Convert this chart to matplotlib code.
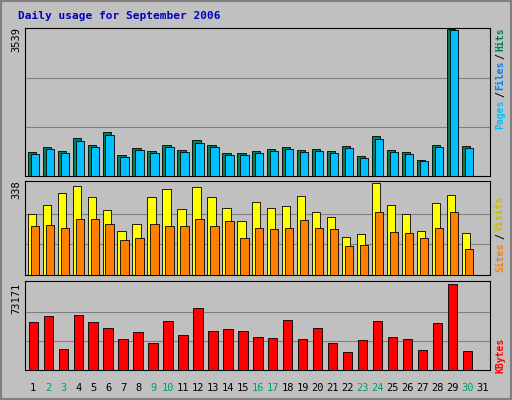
import numpy as np
import matplotlib
matplotlib.use('Agg')
import matplotlib.pyplot as plt

days = list(range(1, 32))
weekend = [2, 3, 9, 10, 16, 17, 23, 24, 30]

hits = [578, 698, 602, 915, 746, 1059, 505, 674, 602, 746, 626, 867, 746, 554, 554,
        602, 650, 698, 626, 650, 602, 722, 481, 963, 626, 578, 385, 746, 3539, 722]
files = [530, 650, 560, 850, 690, 990, 460, 620, 560, 690, 580, 800, 690, 510, 510,
         560, 600, 650, 580, 600, 560, 670, 440, 890, 580, 530, 350, 690, 3500, 670]
visits = [224, 257, 301, 327, 287, 239, 162, 187, 287, 316, 243, 323, 287, 246, 198,
          268, 246, 254, 290, 231, 213, 140, 151, 338, 257, 224, 162, 265, 294, 154]
sites = [180, 184, 173, 206, 206, 187, 129, 136, 187, 180, 180, 206, 180, 198, 136,
         173, 169, 173, 202, 173, 169, 106, 110, 231, 158, 154, 136, 173, 231, 95]
kbytes = [40848, 45954, 17871, 46805, 40848, 35742, 26381, 32338, 22977, 41699, 29785,
          52762, 33189, 34891, 33189, 28083, 27232, 42550, 26381, 35742, 22977, 15318,
          25530, 41699, 28083, 26381, 17020, 39997, 73171, 16169]

W, H = 512, 400
fig = plt.figure(figsize=(W / 100, H / 100), dpi=100, facecolor='#c0c0c0')
mono = 'DejaVu Sans Mono'

# outer bevel border
fig.add_artist(plt.Rectangle((0.002, 0.002), 0.996, 0.996, transform=fig.transFigure,
                             fill=False, edgecolor='#808080', lw=1.5))
fig.text(18 / W, 1 - 16 / H, 'Daily usage for September 2006', color='#0000c0',
         fontsize=8, fontweight='bold', family=mono, va='center')

def panel(y0, y1):
    ax = fig.add_axes([25 / W, 1 - y1 / H, (490 - 25) / W, (y1 - y0) / H])
    ax.set_facecolor('#c0c0c0')
    ax.set_xlim(0.45, 31.5)
    ax.set_xticks([])
    ax.set_yticks([])
    for s in ax.spines.values():
        s.set_color('#000000')
        s.set_linewidth(0.8)
    return ax

x = np.arange(1, 31)

def grid(ax, top):
    for f in (1 / 3, 2 / 3):
        ax.axhline(top * f, color='#808080', lw=0.8, zorder=0)

def side(parts, size=7):
    for txt, col, yc in parts:
        fig.text(500 / W, 1 - yc / H, txt, rotation=90, fontsize=size, fontweight='bold',
                 family=mono, color=col, ha='center', va='center')

# top panel
ax1 = panel(28, 176)
ax1.set_ylim(0, 3539 * 1.005)
grid(ax1, 3539)
ax1.bar(x - 0.1, hits, width=0.55, color='#00805c', edgecolor='black', lw=0.6, zorder=2)
ax1.bar(x + 0.1, files, width=0.55, color='#00c0ff', edgecolor='black', lw=0.6, zorder=3)
fig.text(16 / W, 1 - 40 / H, '3539', rotation=90, fontsize=7.5, family=mono, ha='center', va='center')
side([('Hits', '#00805c', 39), ('/', 'black', 56), ('Files', '#0080ff', 75),
      ('/', 'black', 94), ('Pages', '#00c0ff', 114)])

# middle panel
ax2 = panel(181, 275)
ax2.set_ylim(0, 338 * 1.02)
grid(ax2, 338)
ax2.bar(x - 0.1, visits, width=0.55, color='#ffff00', edgecolor='black', lw=0.6, zorder=2)
ax2.bar(x + 0.1, sites, width=0.55, color='#ff8000', edgecolor='black', lw=0.6, zorder=3)
fig.text(16 / W, 1 - 190 / H, '338', rotation=90, fontsize=7.5, family=mono, ha='center', va='center')
side([('Visits', '#c0c000', 213), ('/', 'black', 236), ('Sites', '#ff8000', 257)])

# bottom panel
ax3 = panel(281, 370)
ax3.set_ylim(0, 73171 * 1.03)
grid(ax3, 73171)
ax3.bar(x, kbytes, width=0.62, color='#ff0000', edgecolor='black', lw=0.6, zorder=2)
fig.text(16 / W, 1 - 298 / H, '73171', rotation=90, fontsize=7.5, family=mono, ha='center', va='center')
side([('KBytes', '#ff0000', 355)])

for d in days:
    xp = 25 + (d - 0.45) / 31.05 * 465
    fig.text(xp / W, 1 - 388 / H, str(d), fontsize=7.5, family=mono, ha='center', va='center',
             color='#00a060' if d in weekend else 'black')

fig.savefig('out.png', dpi=100, facecolor=fig.get_facecolor())
